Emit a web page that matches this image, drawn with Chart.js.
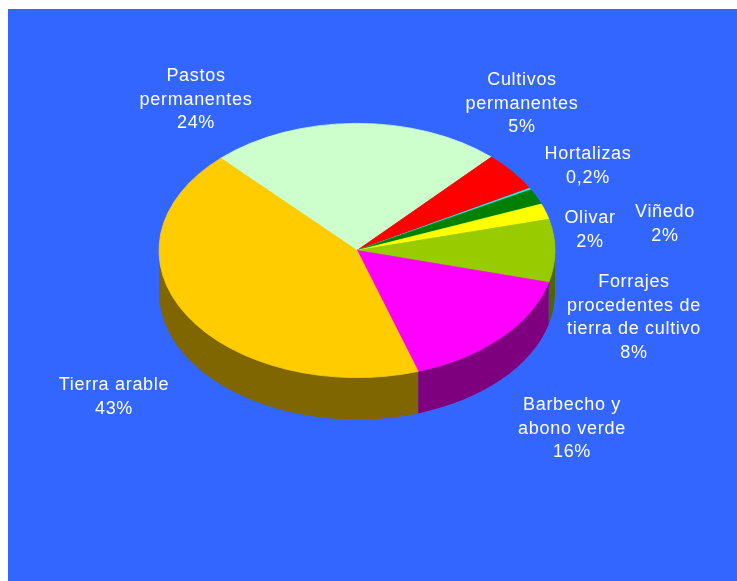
<!DOCTYPE html>
<html lang="es">
<head>
<meta charset="utf-8">
<title>Superficie agraria</title>
<script src="https://cdn.jsdelivr.net/npm/chart.js@4"></script>
<style>
  html, body { margin: 0; padding: 0; background: #fff; overflow: hidden; }
  body { padding: 9px 0 0 8px; }
  canvas { display: block; background: #3366FF; }
</style>
</head>
<body>
<canvas id="landChart" width="729" height="572"></canvas>
<script>
// ----- DATA -----
const categories = ['Pastos permanentes', 'Cultivos permanentes', 'Hortalizas', 'Viñedo', 'Olivar',
  'Forrajes procedentes de tierra de cultivo', 'Barbecho y abono verde', 'Tierra arable'];
const shares = [24, 5, 0.2, 2, 2, 8, 16, 43];
const shareLabels = ['24%', '5%', '0,2%', '2%', '2%', '8%', '16%', '43%'];
const nameLines = [
  ['Pastos', 'permanentes'],
  ['Cultivos', 'permanentes'],
  ['Hortalizas'],
  ['Viñedo'],
  ['Olivar'],
  ['Forrajes', 'procedentes de', 'tierra de cultivo'],
  ['Barbecho y', 'abono verde'],
  ['Tierra arable']
];
const sliceColors = ['#CCFFCC', '#FF0000', '#00FFFF', '#008000', '#FFFF00', '#99CC00', '#FF00FF', '#FFCC00'];

// ----- LAYOUT -----
const TILT = 0.642;      // vertical squash of the disc
const DEPTH = 42;        // height of the pie wall in px
const LINE_HEIGHT = 23.6;
// first-line centre of each label on the canvas
const labelPlaces = [
  [188, 67], [514, 71], [580, 145], [657, 203], [582, 209], [626, 273], [564, 396], [106, 376]
];

function halfShade(hex) {
  const n = parseInt(hex.slice(1), 16);
  const r = (n >> 16) >> 1, g = ((n >> 8) & 255) >> 1, b = (n & 255) >> 1;
  return `rgb(${r},${g},${b})`;
}

// draws the front wall of each slice, then squashes the top face the library paints
const pieWall = {
  id: 'pieWall',
  beforeDatasetsDraw(chart) {
    const ctx = chart.ctx;
    const arcs = chart.getDatasetMeta(0).data;
    arcs.forEach((arc, i) => {
      const from = Math.max(arc.startAngle, 0);
      const to = Math.min(arc.endAngle, Math.PI);
      if (to <= from) return;
      const rx = arc.outerRadius, ry = arc.outerRadius * TILT;
      ctx.beginPath();
      ctx.ellipse(arc.x, arc.y + DEPTH, rx, ry, 0, from, to);
      ctx.ellipse(arc.x, arc.y, rx, ry, 0, to, from, true);
      ctx.closePath();
      ctx.fillStyle = halfShade(sliceColors[i]);
      ctx.fill();
    });
    const cy = arcs[0].y;
    ctx.save();
    ctx.translate(0, cy);
    ctx.scale(1, TILT);
    ctx.translate(0, -cy);
  },
  afterDatasetsDraw(chart) {
    chart.ctx.restore();
  }
};

const sliceLabels = {
  id: 'sliceLabels',
  afterDraw(chart) {
    const ctx = chart.ctx;
    ctx.save();
    ctx.fillStyle = '#fff';
    ctx.font = '18px "Liberation Sans", Arial, sans-serif';
    ctx.letterSpacing = '0.7px';
    ctx.textAlign = 'center';
    ctx.textBaseline = 'middle';
    categories.forEach((name, i) => {
      const [x, y] = labelPlaces[i];
      [...nameLines[i], shareLabels[i]].forEach((line, n) => {
        ctx.fillText(line, x, y + n * LINE_HEIGHT);
      });
    });
    ctx.restore();
  }
};

new Chart(document.getElementById('landChart').getContext('2d'), {
  type: 'pie',
  data: {
    labels: categories,
    datasets: [{
      data: shares,
      backgroundColor: sliceColors,
      borderColor: sliceColors,
      borderWidth: 1,
      clip: false
    }]
  },
  options: {
    responsive: false,
    animation: false,
    events: [],
    rotation: -43.5,
    layout: { padding: { left: 150.5, right: 181.5, top: 43, bottom: 132 } },
    plugins: { legend: { display: false }, tooltip: { enabled: false } }
  },
  plugins: [pieWall, sliceLabels]
});
</script>
</body>
</html>
